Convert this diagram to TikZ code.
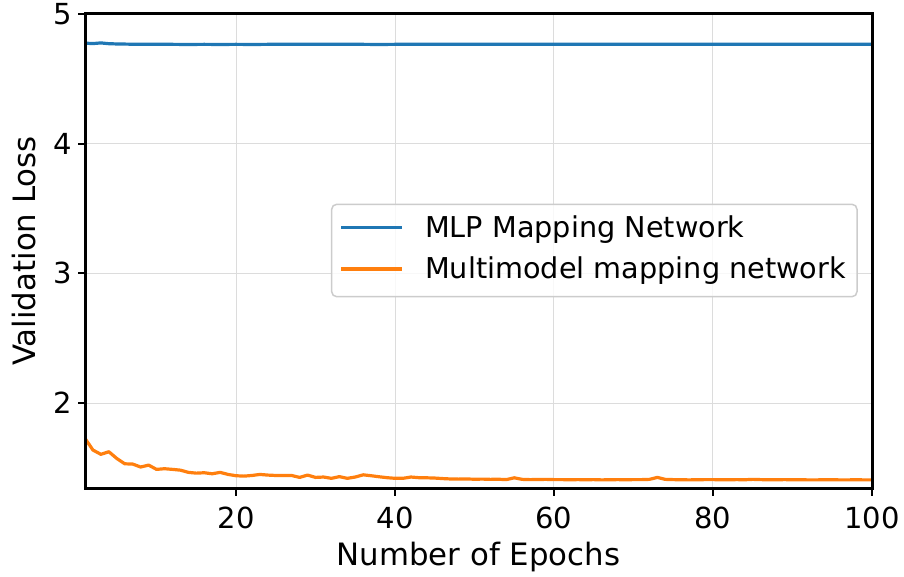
\documentclass[tikz,border=0pt]{standalone}
\usepackage{fontspec}
\setmainfont{DejaVu Sans}
\definecolor{mplblue}{HTML}{1F77B4}
\definecolor{mplorange}{HTML}{FF7F0E}
\definecolor{gridgray}{HTML}{DCDCDC}
\definecolor{legedge}{HTML}{CCCCCC}
\tikzset{
  gridline/.style={draw=gridgray, line width=1pt},
  tickmark/.style={draw=black, line width=2pt},
  spine/.style={draw=black, line width=3pt},
  series/.style={line width=3.2pt, line join=round, line cap=round},
  ticklabel/.style={inner sep=0pt, font=\fontsize{29}{34}\selectfont},
  axlabel/.style={inner sep=0pt, font=\fontsize{30.8}{36}\selectfont},
  legtext/.style={inner sep=0pt, anchor=base west, font=\fontsize{28.7}{34}\selectfont},
}
\begin{document}
\begin{tikzpicture}[x=1pt,y=1pt]
\useasboundingbox (0,0) rectangle (904,576);
% axes corners in pt (y up)
\coordinate (axSW) at (85,88);
\coordinate (axNE) at (872,562);
% data scope: (epoch, loss) -> pt
\begin{scope}[x=7.949pt, y=129.7pt, shift={(77.05pt,-86.5pt)}]
  % grid
  \foreach \e in {20,40,60,80} \draw[gridline] (\e,1.345) -- (\e,5);
  \foreach \v in {2,3,4} \draw[gridline] (1,\v) -- (100,\v);
  \begin{scope}
  \clip (1,1.345) rectangle (100,5);
  \draw[series, mplblue] plot coordinates {
   (1,4.775) (2,4.772) (3,4.777) (4,4.771) (5,4.769) (6,4.768) (7,4.767) (8,4.767) (9,4.766) (10,4.766)
   (12,4.766) (14,4.765) (16,4.766) (18,4.765) (20,4.766) (22,4.765) (24,4.766) (26,4.766) (28,4.766) (30,4.767)
   (32,4.766) (34,4.766) (36,4.766) (38,4.765) (40,4.766) (45,4.766) (50,4.766) (55,4.766) (60,4.766) (65,4.766)
   (70,4.766) (75,4.766) (80,4.766) (85,4.766) (90,4.767) (95,4.766) (100,4.766)};
  \draw[series, mplorange] plot coordinates {
   (1,1.728) (2,1.638) (3,1.605) (4,1.625) (5,1.573) (6,1.532) (7,1.530) (8,1.507) (9,1.522) (10,1.489)
   (11,1.494) (12,1.489) (13,1.483) (14,1.466) (15,1.460) (16,1.463) (17,1.455) (18,1.466) (19,1.450) (20,1.440)
   (21,1.437) (22,1.442) (23,1.450) (24,1.445) (25,1.442) (26,1.442) (27,1.442) (28,1.427) (29,1.445) (30,1.427)
   (31,1.430) (32,1.420) (33,1.433) (34,1.420) (35,1.430) (36,1.447) (37,1.440) (38,1.432) (39,1.425) (40,1.420)
   (41,1.420) (42,1.430) (43,1.425) (44,1.424) (45,1.422) (46,1.418) (47,1.415) (48,1.414) (49,1.415) (50,1.413)
   (51,1.414) (52,1.412) (53,1.413) (54,1.410) (55,1.424) (56,1.412) (57,1.410) (58,1.411) (59,1.412) (60,1.410)
   (61,1.410) (62,1.409) (63,1.410) (64,1.409) (65,1.410) (66,1.408) (67,1.409) (68,1.410) (69,1.409) (70,1.410)
   (71,1.410) (72,1.412) (73,1.427) (74,1.412) (75,1.410) (76,1.409) (77,1.408) (78,1.409) (79,1.410) (80,1.410)
   (81,1.409) (82,1.409) (83,1.410) (84,1.409) (85,1.412) (86,1.410) (87,1.409) (88,1.409) (89,1.410) (90,1.409)
   (91,1.409) (92,1.408) (93,1.408) (94,1.409) (95,1.409) (96,1.408) (97,1.408) (98,1.409) (99,1.408) (100,1.408)};
  \end{scope}
  % ticks and tick labels
  \foreach \e in {20,40,60,80,100} {
    \coordinate (xt\e) at (\e,1.345);
    \draw[tickmark] (xt\e) -- ++(0,-8pt);
    \node[ticklabel, anchor=base] (xl\e) at ([yshift=-40pt]xt\e) {\e};
  }
  \foreach \v in {2,3,4,5} {
    \coordinate (yt\v) at (1,\v);
    \draw[tickmark] (yt\v) -- ++(-7pt,0);
    \node[ticklabel, anchor=east] (yl\v) at ([xshift=-13pt]yt\v) {\v};
  }
\end{scope}
% legend
\draw[draw=legedge, fill=white, fill opacity=0.8, line width=1.5pt, rounded corners=5pt]
  (331.7,279.3) rectangle (857,371.7);
\coordinate (lb1) at (341,348.7);
\coordinate (lb2) at (402,348.7);
\coordinate (lo1) at (341,307);
\coordinate (lo2) at (402,307);
\draw[series, mplblue, line cap=butt] (lb1) -- (lb2);
\draw[series, mplorange, line cap=butt] (lo1) -- (lo2);
\node[legtext] (leg1) at (425,338.7) {MLP Mapping Network};
\node[legtext] (leg2) at (425,297.7) {Multimodel mapping network};
% frame
\draw[spine] (axSW) rectangle (axNE);
% axis labels
\node[axlabel, anchor=base] (xlab) at (478.5,11) {Number of Epochs};
\node[axlabel, anchor=base, rotate=90] (ylab) at (35,325) {Validation Loss};
\end{tikzpicture}
\end{document}
